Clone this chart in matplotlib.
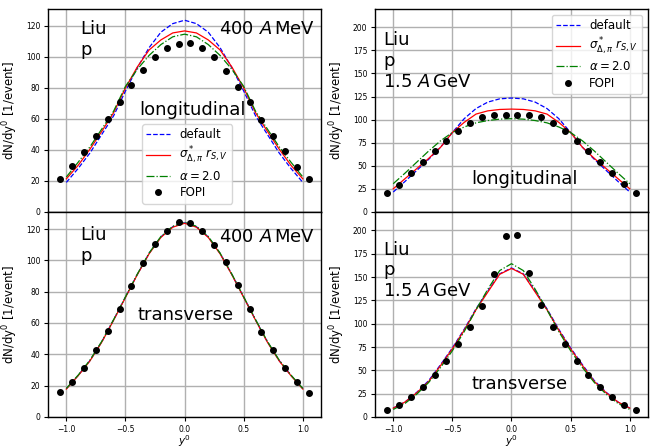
import matplotlib
matplotlib.use("Agg")
import matplotlib.pyplot as plt
import numpy as np

# rapidity grids
y_model = [-1.0, -0.9, -0.8, -0.7, -0.6, -0.5, -0.4, -0.3, -0.2, -0.1, 0.0,
           0.1, 0.2, 0.3, 0.4, 0.5, 0.6, 0.7, 0.8, 0.9, 1.0]
y_fopi = [-1.05, -0.95, -0.85, -0.75, -0.65, -0.55, -0.45, -0.35, -0.25, -0.15, -0.05,
          0.05, 0.15, 0.25, 0.35, 0.45, 0.55, 0.65, 0.75, 0.85, 0.95, 1.05]

# 400 A MeV, longitudinal
lo400_default = [19, 28, 38, 50, 62, 78, 93, 106, 116, 121.5, 123.7,
                 121.5, 116, 106, 93, 78, 62, 50, 38, 28, 19]
lo400_sigma = [21.3, 30, 40.5, 52, 64, 80, 93.5, 104.5, 111, 115.5, 116.8,
               115.5, 111, 104.5, 93.5, 80, 64, 52, 40.5, 30, 21.3]
lo400_alpha = [22.5, 32, 42, 53.5, 65, 81, 92, 101, 108, 113, 114.7,
               113, 108, 101, 92, 81, 65, 53.5, 42, 32, 22.5]
lo400_fopi = [21, 29.6, 38.4, 49, 59.8, 70.7, 81.7, 91.3, 99.7, 105.9, 108.5,
              108.7, 106, 100, 91, 80.6, 71, 59.4, 49, 39, 29, 21]

# 400 A MeV, transverse
tr400_default = [18, 26.5, 36, 48, 62, 76.5, 91, 104.5, 115, 121.5, 124,
                 121.5, 115, 104.5, 91, 76.5, 62, 48, 36, 26.5, 18]
tr400_sigma = [17.8, 26.3, 35.8, 47.8, 61.8, 76.3, 90.8, 104.2, 114.7, 121.2, 123.7,
               121.2, 114.7, 104.2, 90.8, 76.3, 61.8, 47.8, 35.8, 26.3, 17.8]
tr400_alpha = [18.2, 26.7, 36.3, 48.3, 62.2, 76.7, 91.2, 104.7, 115.3, 121.8, 124.4,
               121.8, 115.3, 104.7, 91.2, 76.7, 62.2, 48.3, 36.3, 26.7, 18.2]
tr400_fopi = [15.9, 22.5, 31.3, 42.7, 54.7, 69.2, 83.4, 98.2, 110.4, 118.5, 124.5,
              123.9, 119, 110, 98.8, 84.2, 69.2, 54.4, 42.7, 31.1, 22.3, 15.6]

# 1.5 A GeV, longitudinal
lo1500_default = [21.5, 33, 45, 57, 70, 86, 101, 112, 119, 122.5, 123.4,
                  122.5, 119, 112, 101, 86, 70, 57, 45, 33, 21.5]
lo1500_sigma = [25, 36, 47, 58, 70, 86, 97, 106, 109.5, 111, 111.4,
                111, 109.5, 106, 97, 86, 70, 58, 47, 36, 25]
lo1500_alpha = [30.5, 42, 54, 66, 77, 86, 92, 96.5, 99, 100.5, 101,
                100.5, 99, 96.5, 92, 86, 77, 66, 54, 42, 30.5]
lo1500_fopi = [20, 29.4, 42, 54.4, 66, 77.3, 87.8, 95.8, 102.7, 104.9, 105.2,
               104.5, 104.5, 102.7, 95.8, 87.4, 77.3, 65.7, 54, 42.5, 30.5, 20]

# 1.5 A GeV, transverse
tr1500_default = [9.5, 16, 26.5, 39, 56, 74, 94, 116, 135, 153.5, 159.8,
                  153.5, 135, 116, 94, 74, 56, 39, 26.5, 16, 9.5]
tr1500_sigma = [9.4, 16, 26, 38, 55, 73, 93, 115, 134, 153, 159.3,
                153, 134, 115, 93, 73, 55, 38, 26, 16, 9.4]
tr1500_alpha = [8, 14.5, 24.5, 37, 53, 71, 91.5, 115, 137, 157, 164.4,
                157, 137, 115, 91.5, 71, 53, 37, 24.5, 14.5, 8]
tr1500_fopi = [7.6, 12.7, 21.4, 31.9, 45, 59.9, 78.7, 96.5, 119.4, 153.5, 194.5,
               194.9, 154.2, 119.7, 96.5, 78.7, 59.9, 44.6, 31.9, 21, 12.3, 7.3]

legend_labels = ["default", r"$\sigma^*_{\Delta,\pi}\ r_{S,V}$", r"$\alpha=2.0$", "FOPI"]

plt.rcParams["font.family"] = ["DejaVu Sans"]

fig = plt.figure(figsize=(6.52, 4.46), dpi=100)

left_x, right_x, width = 0.0736, 0.575, 0.419
top_b, top_h = 0.525, 0.455
bot_b, bot_h = 0.0652, 0.4598

ax_tl = fig.add_axes([left_x, top_b, width, top_h])
ax_bl = fig.add_axes([left_x, bot_b, width, bot_h], sharex=ax_tl)
ax_tr = fig.add_axes([right_x, top_b, width, top_h])
ax_br = fig.add_axes([right_x, bot_b, width, bot_h], sharex=ax_tr)


def draw(ax, d, s, a, f):
    ax.plot(y_model, d, color="blue", ls="--", lw=0.9, label=legend_labels[0])
    ax.plot(y_model, s, color="red", ls="-", lw=0.9, label=legend_labels[1])
    ax.plot(y_model, a, color="green", ls="-.", lw=0.9, label=legend_labels[2])
    ax.plot(y_fopi, f, "o", color="black", ms=4, ls="none", label=legend_labels[3])
    ax.grid(True, color="#b0b0b0", lw=1.0)
    ax.set_axisbelow(True)
    ax.tick_params(labelsize=5.5, length=3, width=0.8, pad=2.5)
    ax.set_ylabel(r"dN/dy$^0$ [1/event]", fontsize=8.5)
    for sp in ax.spines.values():
        sp.set_linewidth(1.0)


draw(ax_tl, lo400_default, lo400_sigma, lo400_alpha, lo400_fopi)
draw(ax_bl, tr400_default, tr400_sigma, tr400_alpha, tr400_fopi)
draw(ax_tr, lo1500_default, lo1500_sigma, lo1500_alpha, lo1500_fopi)
draw(ax_br, tr1500_default, tr1500_sigma, tr1500_alpha, tr1500_fopi)

for ax in (ax_tl, ax_bl):
    ax.set_ylim(0, 131)
    ax.set_yticks([0, 20, 40, 60, 80, 100, 120])
for ax in (ax_tr, ax_br):
    ax.set_ylim(0, 220)
    ax.set_yticks([0, 25, 50, 75, 100, 125, 150, 175, 200])
for ax in (ax_tl, ax_tr, ax_bl, ax_br):
    ax.set_xlim(-1.155, 1.155)
    ax.set_xticks([-1.0, -0.5, 0.0, 0.5, 1.0])
for ax in (ax_tl, ax_tr):
    ax.tick_params(labelbottom=False)
for ax in (ax_bl, ax_br):
    ax.set_xlabel(r"$y^0$", fontsize=7.5, labelpad=-0.5)

big = 13
ax_tl.text(0.117, 0.945, "Liu\np", transform=ax_tl.transAxes, fontsize=big, va="top", ha="left")
ax_tl.text(0.978, 0.945, r"400 $A\,$MeV", transform=ax_tl.transAxes, fontsize=big, va="top", ha="right")
ax_tl.text(0.53, 0.5, "longitudinal", transform=ax_tl.transAxes, fontsize=big, va="center", ha="center")

ax_bl.text(0.117, 0.93, "Liu\np", transform=ax_bl.transAxes, fontsize=big, va="top", ha="left")
ax_bl.text(0.978, 0.92, r"400 $A\,$MeV", transform=ax_bl.transAxes, fontsize=big, va="top", ha="right")
ax_bl.text(0.505, 0.496, "transverse", transform=ax_bl.transAxes, fontsize=big, va="center", ha="center")

ax_tr.text(0.03, 0.89, "Liu\np\n" + r"1.5 $A\,$GeV", transform=ax_tr.transAxes, fontsize=big,
           va="top", ha="left")
ax_tr.text(0.548, 0.16, "longitudinal", transform=ax_tr.transAxes, fontsize=big, va="center", ha="center")

ax_br.text(0.03, 0.86, "Liu\np\n" + r"1.5 $A\,$GeV", transform=ax_br.transAxes, fontsize=big,
           va="top", ha="left")
ax_br.text(0.53, 0.16, "transverse", transform=ax_br.transAxes, fontsize=big, va="center", ha="center")

leg_kw = dict(fontsize=8.5, handlelength=2.0, labelspacing=0.3, borderpad=0.35,
              handletextpad=0.8)
ax_tl.legend(loc="lower center", bbox_to_anchor=(0.51, 0.012), **leg_kw)
ax_tr.legend(loc="upper right", **leg_kw)

fig.savefig("out.png", dpi=100)
